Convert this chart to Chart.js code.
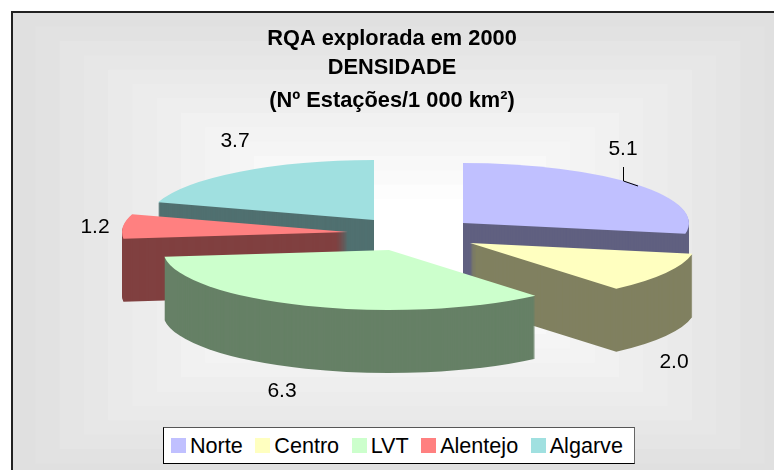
<!DOCTYPE html>
<html lang="pt">

<head>
  <meta charset="UTF-8">
  <title>RQA explorada em 2000 - Densidade</title>
  <script src="https://cdn.jsdelivr.net/npm/chart.js"></script>
  <style>
    body {
      margin: 0;
      background: #fff;
      font-family: "Liberation Sans", Arial, sans-serif;
    }

    #chart-container {
      position: relative;
      width: 774px;
      height: 470px;
      overflow: hidden;
    }

    #legend {
      position: absolute;
      left: 163px;
      top: 427px;
      width: 470px;
      height: 35px;
      box-sizing: content-box;
      background: #fff;
      border: 1px solid #000;
      border-right-color: #666;
      border-top-color: #555;
      display: flex;
      align-items: center;
      font-size: 21.6px;
      color: #000;
    }

    #legend span.item {
      display: flex;
      align-items: center;
      margin-right: 12.5px;
      white-space: nowrap;
    }

    #legend span.item:first-child {
      margin-left: 7px;
    }

    #legend span.box {
      width: 15px;
      height: 15px;
      margin-right: 4px;
    }
  </style>
</head>

<body>
  <div id="chart-container">
    <canvas id="densidadeChart" width="774" height="470"></canvas>
    <div id="legend"></div>
  </div>

  <script>
    const categories = ["Norte", "Centro", "LVT", "Alentejo", "Algarve"];
    const values = [5.1, 2.0, 6.3, 1.2, 3.7];
    const colors = ["#C0C0FF", "#FFFFC0", "#CCFFCC", "#FF8080", "#A0E0E0"];
    const wallColors = ["#606080", "#808060", "#668066", "#804040", "#507070"];
    const titleLines = ["RQA explorada em 2000", "DENSIDADE"];
    const subtitleLine = "(Nº Estações/1 000 km²)";

    // posicao do "pie 3D" no canvas
    const pieX = 413, pieY = 234, pieRx = 226, pieRy = 60, pieDepth = 63, explode = 0.29;
    const baseRadius = 100;

    // centro de cada rotulo, pela ordem das categorias
    const labelX = [623, 674, 282, 95, 235];
    const labelY = [149, 362, 391, 227, 141];

    // fundo: gradiente retangular em degraus + moldura
    const backgroundPlugin = {
      id: 'steppedBackground',
      beforeDraw(chart) {
        const ctx = chart.ctx;
        ctx.save();
        for (let k = 0; k < 16; k++) {
          const hw = 389 - 24.3 * k;
          const hh = 233 - 14.4 * k;
          const g = Math.min(255, Math.round(224 + 31 * k / 13));
          ctx.fillStyle = `rgb(${g},${g},${g})`;
          ctx.fillRect(400 - hw, 245 - hh, hw * 2, hh * 2);
        }
        ctx.strokeStyle = '#222';
        ctx.lineWidth = 2;
        ctx.strokeRect(12, 12, 790, 480);
        ctx.restore();
      }
    };

    // desenha as fatias achatadas, com parede e afastadas do centro
    const pie3dPlugin = {
      id: 'pie3d',
      beforeDatasetDraw(chart, args) {
        const ctx = chart.ctx;
        const arcs = args.meta.data;
        const order = arcs.map((arc, i) => i).sort((a, b) => {
          return Math.sin(midAngle(arcs[a])) - Math.sin(midAngle(arcs[b]));
        });

        order.forEach(i => {
          const arc = arcs[i];
          const opts = arc.options;
          const mid = midAngle(arc);
          const cx = Math.round(pieX + Math.cos(mid) * explode * pieRx);
          const cy = Math.round(pieY + Math.sin(mid) * explode * pieRy);

          arc.options = Object.assign({}, opts, { backgroundColor: wallColors[i] });
          for (let d = pieDepth; d > 0; d--) {
            drawFlat(ctx, arc, cx, cy + d);
          }
          arc.options = opts;
          drawFlat(ctx, arc, cx, cy);
        });
        return false;
      },
      afterDatasetsDraw(chart) {
        const ctx = chart.ctx;
        ctx.save();
        ctx.fillStyle = '#000';
        ctx.font = '21px "Liberation Sans", Arial, sans-serif';
        ctx.textAlign = 'center';
        ctx.textBaseline = 'middle';
        values.forEach((v, i) => {
          ctx.fillText(v.toFixed(1), labelX[i], labelY[i]);
        });
        // linha de ligacao do rotulo 5.1
        ctx.strokeStyle = '#000';
        ctx.lineWidth = 1;
        ctx.beginPath();
        ctx.moveTo(623.5, 167);
        ctx.lineTo(623.5, 181);
        ctx.lineTo(638, 186);
        ctx.stroke();
        ctx.restore();
      }
    };

    function midAngle(arc) {
      return (arc.startAngle + arc.endAngle) / 2;
    }

    function drawFlat(ctx, arc, cx, cy) {
      ctx.save();
      ctx.translate(cx, cy);
      ctx.scale(pieRx / baseRadius, pieRy / baseRadius);
      ctx.translate(-arc.x, -arc.y);
      arc.draw(ctx);
      ctx.restore();
    }

    const ctx = document.getElementById('densidadeChart').getContext('2d');
    const densidadeChart = new Chart(ctx, {
      type: 'pie',
      data: {
        labels: categories,
        datasets: [{
          data: values,
          backgroundColor: colors,
          borderWidth: 0
        }]
      },
      options: {
        responsive: false,
        animation: false,
        radius: baseRadius,
        layout: { padding: { left: 10 } },
        plugins: {
          legend: { display: false },
          tooltip: { enabled: false },
          title: {
            display: true,
            text: titleLines,
            color: '#000',
            font: { family: '"Liberation Sans", Arial, sans-serif', size: 21.8, weight: 'bold', lineHeight: 1.3 },
            padding: { top: 25, bottom: 5 }
          },
          subtitle: {
            display: true,
            text: subtitleLine,
            color: '#000',
            font: { family: '"Liberation Sans", Arial, sans-serif', size: 21.8, weight: 'bold', lineHeight: 1.3 },
            padding: { top: 0, bottom: 0 }
          }
        }
      },
      plugins: [backgroundPlugin, pie3dPlugin]
    });

    // legenda em HTML
    const legend = document.getElementById('legend');
    categories.forEach((name, i) => {
      const item = document.createElement('span');
      item.className = 'item';
      const box = document.createElement('span');
      box.className = 'box';
      box.style.background = colors[i];
      item.appendChild(box);
      item.appendChild(document.createTextNode(name));
      legend.appendChild(item);
    });
  </script>
</body>

</html>
